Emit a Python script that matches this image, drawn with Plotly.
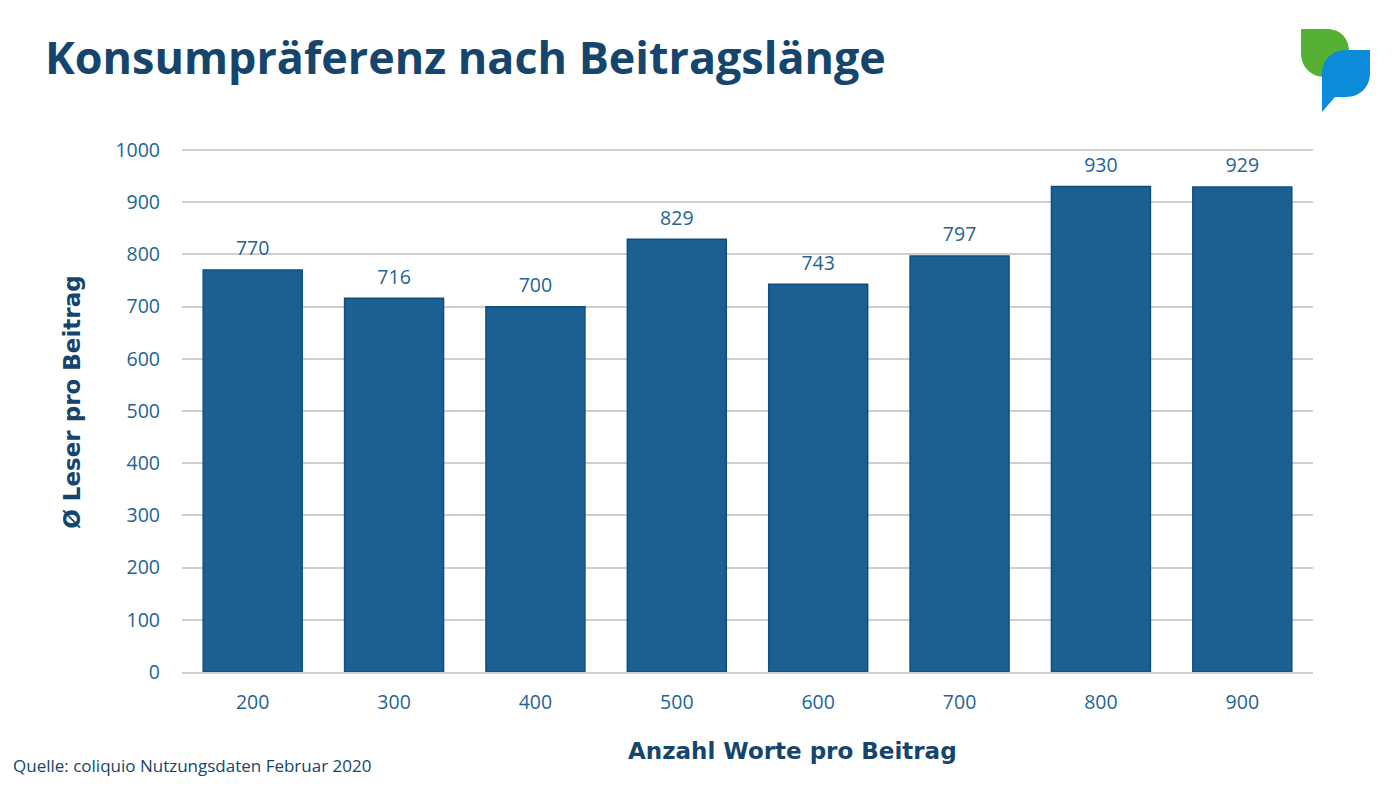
import plotly.graph_objects as go

W, H = 1400, 788
LEFT, RIGHT, TOP, BOTTOM = 182, 1313, 149, 672.5

words = ["200", "300", "400", "500", "600", "700", "800", "900"]
readers = [770, 716, 700, 829, 743, 797, 930, 929]
y_ticks = [0, 100, 200, 300, 400, 500, 600, 700, 800, 900, 1000]

title = "Konsumpräferenz nach Beitragslänge"
source = "Quelle: coliquio Nutzungsdaten Februar 2020"
x_title = "Anzahl Worte pro Beitrag"
y_title = "Ø Leser pro Beitrag"

BAR = "#1c6093"
BAR_EDGE = "#0f4d7d"
TICK = "#1f6496"
DARK = "#15456d"
GRID = "#cfcfcf"


# page pixels to paper coordinates (paper is the plot area)
def px(x):
    return (x - LEFT) / (RIGHT - LEFT)


def py(y):
    return (BOTTOM - y) / (BOTTOM - TOP)


def logo_path(points):
    out = []
    for p in points:
        if isinstance(p, str):
            out.append(p)
        else:
            out.append(f"{px(p[0]):.5f},{py(p[1]):.5f}")
    return " ".join(out)


green = logo_path(["M", (1301, 29), "L", (1327, 29), "C", (1340, 29), (1349, 38), (1349, 52),
                   "L", (1349, 77), "L", (1325, 77), "C", (1311, 77), (1301, 67), (1301, 53), "Z"])
blue = logo_path(["M", (1370, 50), "L", (1370, 73), "C", (1370, 87), (1360, 97), (1346, 97),
                  "L", (1335, 97), "L", (1322, 112), "L", (1322, 74), "C", (1322, 60), (1332, 50), (1346, 50), "Z"])

fig = go.Figure()
fig.add_trace(go.Bar(
    x=words,
    y=readers,
    width=0.7,
    marker=dict(color=BAR, line=dict(color=BAR_EDGE, width=1.5)),
))
# labels sit a bit higher than Bar's outside text, so use a hidden marker as spacer
fig.add_trace(go.Scatter(
    x=words,
    y=readers,
    mode="markers+text",
    marker=dict(size=14, opacity=0),
    text=readers,
    textposition="top center",
    cliponaxis=False,
    textfont=dict(family="Open Sans", size=19.5, color=TICK),
))

fig.update_layout(
    width=W,
    height=H,
    margin=dict(l=LEFT, r=W - RIGHT, t=TOP, b=H - BOTTOM, pad=0),
    paper_bgcolor="white",
    plot_bgcolor="white",
    showlegend=False,
    font=dict(family="Open Sans", color=TICK),
    xaxis=dict(
        type="category",
        showgrid=False,
        showline=True,
        linecolor=GRID,
        linewidth=1.5,
        ticks="",
        ticklabelstandoff=12,
        tickfont=dict(size=19.5, color=TICK),
    ),
    yaxis=dict(
        range=[0, 1002],  # plotly drops a gridline right on the top edge
        tickvals=y_ticks,
        showgrid=True,
        gridcolor=GRID,
        gridwidth=1.5,
        zeroline=False,
        ticks="",
        ticklabelstandoff=21,
        tickfont=dict(size=19.5, color=TICK),
    ),
    shapes=[
        dict(type="path", xref="paper", yref="paper", path=green, fillcolor="#56b033", line_width=0),
        dict(type="path", xref="paper", yref="paper", path=blue, fillcolor="#0b8bd8", line_width=0),
    ],
    annotations=[
        dict(text=f"<b>{title}</b>", xref="paper", yref="paper", x=px(43), y=py(56),
             xanchor="left", yanchor="middle", showarrow=False,
             font=dict(family="Open Sans", size=44.9, color=DARK)),
        dict(text=source, xref="paper", yref="paper", x=px(11), y=py(766),
             xanchor="left", yanchor="middle", showarrow=False,
             font=dict(family="Open Sans", size=17, color=DARK)),
        dict(text=f"<b>{x_title}</b>", xref="paper", yref="paper", x=px(792), y=py(752),
             xanchor="center", yanchor="middle", showarrow=False,
             font=dict(family="DejaVu Sans", size=23, color=DARK)),
        dict(text=f"<b>{y_title}</b>", xref="paper", yref="paper", x=px(72), y=py(403),
             xanchor="center", yanchor="middle", showarrow=False, textangle=-90,
             font=dict(family="DejaVu Sans", size=23, color=DARK)),
    ],
)

fig.write_html("out.html", post_script="document.body.style.margin = '0';",
               config={"displayModeBar": False})
